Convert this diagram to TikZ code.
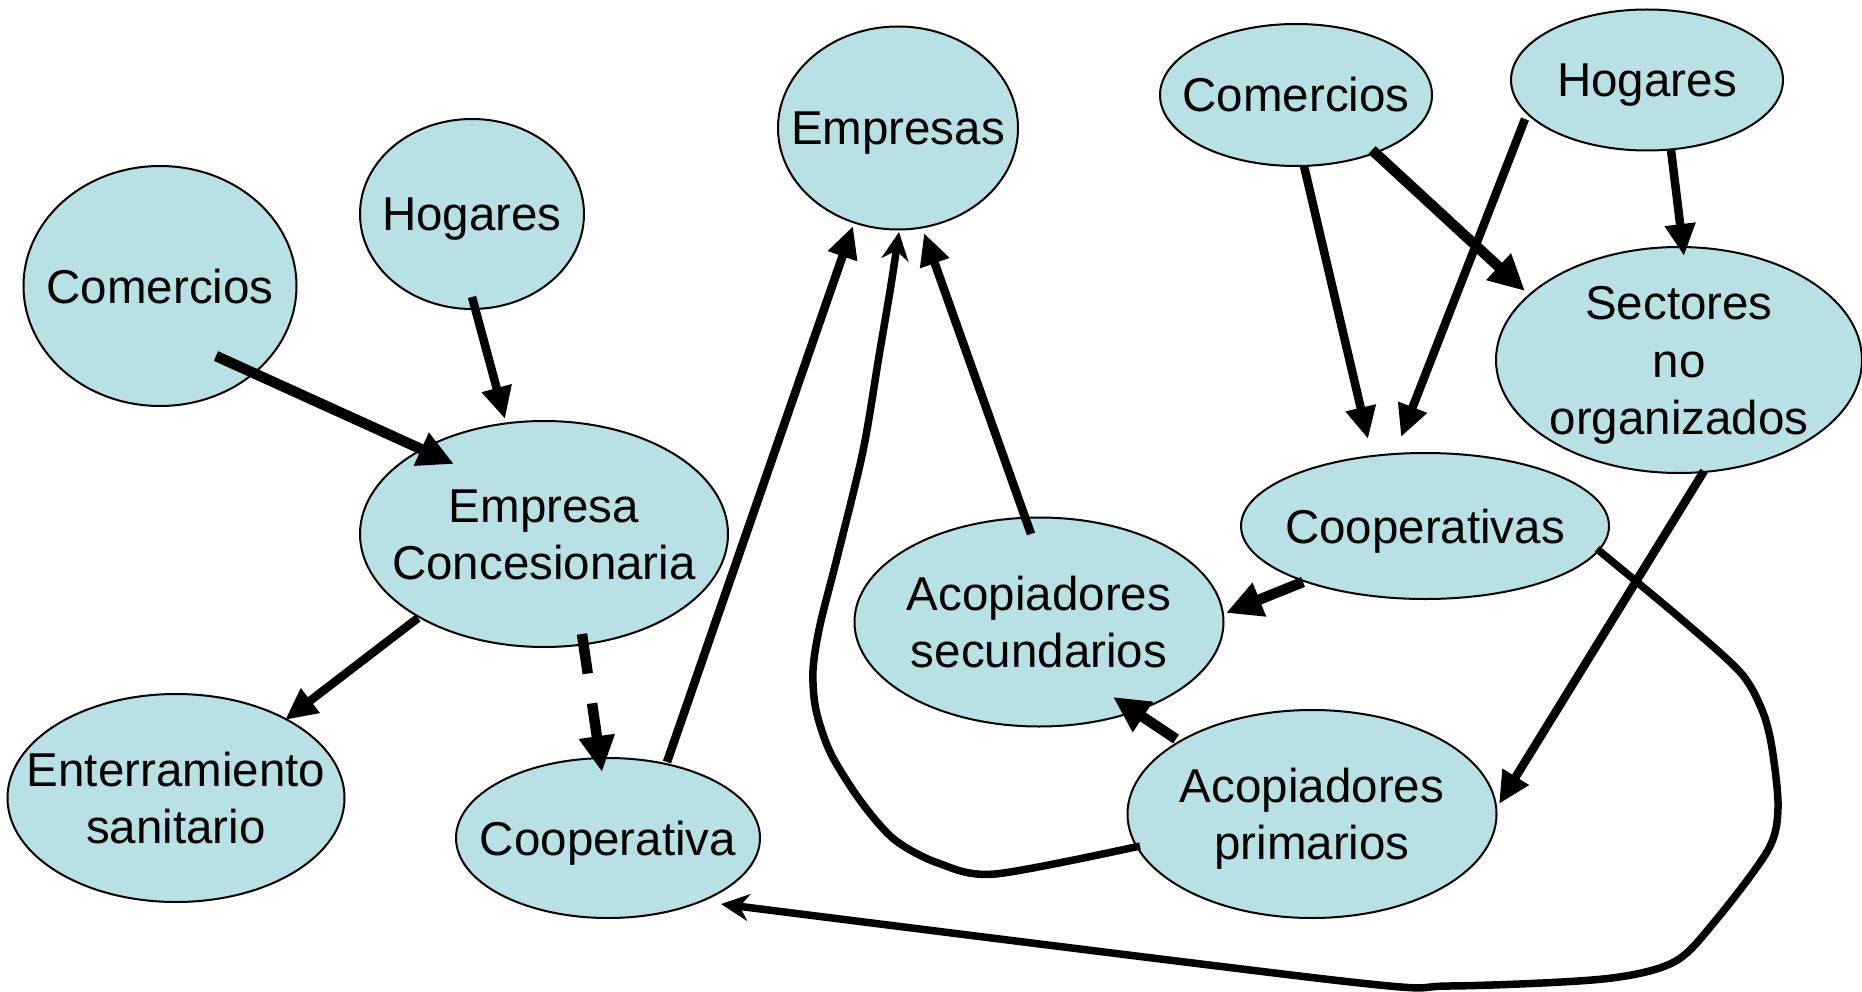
\documentclass[tikz,border=0pt]{standalone}
\usepackage{fontspec}
\setmainfont{Liberation Sans}
\usetikzlibrary{arrows.meta, calc, shapes.geometric}
\definecolor{bubble}{RGB}{185,224,228}
\newcommand\bubblestrut{\rule[-12pt]{0pt}{58pt}}

\begin{document}
\begin{tikzpicture}[x=1pt, y=-1pt,
  actor/.style={ellipse, draw=black, line width=2pt, fill=bubble,
    inner xsep=-200pt, inner ysep=-150pt, align=center,
    font=\fontsize{47.5}{57.5}\selectfont,
    execute at begin node=\bubblestrut, execute at end node=\bubblestrut},
  flow/.style={line width=8.5pt, -{Triangle[length=32pt, width=29pt]}},
  bigflow/.style={line width=10.5pt, -{Triangle[length=36pt, width=34pt]}},
  curveflow/.style={line width=7.5pt, line join=round, -{Stealth[length=28pt, width=27pt]}}]
  \useasboundingbox (0,0) rectangle (1862,992);
  % Draw the left group
  \node [actor, minimum width=273pt, minimum height=240pt] (comL) at (160,286) {Comercios};
  \node [actor, minimum width=224pt, minimum height=190pt] (hogL) at (472,214) {Hogares};
  \node [actor, minimum width=368pt, minimum height=226pt] (emcon) at (544,534) {\bubblestrut Empresa\\Concesionaria};
  \node [actor, minimum width=337pt, minimum height=208pt] (enter) at (176,798) {\bubblestrut Enterramiento\\sanitario};
  \node [actor, minimum width=304pt, minimum height=160pt] (coopL) at (608,838) {Cooperativa};
  % Draw the middle and right group
  \node [actor, minimum width=240pt, minimum height=203pt] (empr) at (898,128) {Empresas};
  \node [actor, minimum width=272pt, minimum height=142pt] (comR) at (1296,95) {Comercios};
  \node [actor, minimum width=272pt, minimum height=141pt] (hogR) at (1647,80) {Hogares};
  \node [actor, minimum width=366pt, minimum height=226pt] (sect) at (1679,360) {\bubblestrut Sectores\\no\\organizados};
  \node [actor, minimum width=368pt, minimum height=146pt] (coops) at (1425,526) {Cooperativas};
  \node [actor, minimum width=369pt, minimum height=209pt] (acsec) at (1039,622) {\bubblestrut Acopiadores\\secundarios};
  \node [actor, minimum width=369pt, minimum height=208pt] (acpri) at (1312,814) {\bubblestrut Acopiadores\\primarios};
  % Draw straight arrows
  \draw [bigflow] ($(comL)+(56,70)$) -- ($(emcon)+(-90,-70)$);
  \draw [flow] ($(hogL)+(0,83)$) -- ($(emcon)+(-39,-115)$);
  \draw [flow] ($(emcon)+(-126,84)$) -- ($(enter)+(109,-78)$);
  \draw [bigflow, dash pattern=on 40pt off 30pt] ($(emcon)+(38,100)$) -- ($(coopL)+(-6,-66)$);
  \draw [flow] ($(coopL)+(59,-76)$) -- ($(empr)+(-45,98)$);
  \draw [flow] ($(acsec)+(-8,-88)$) -- ($(empr)+(26,105)$);
  \draw [flow] ($(comR)+(8,71)$) -- ($(coops)+(-57,-87)$);
  \draw [bigflow] ($(comR)+(76,55)$) -- ($(sect)+(-154,-69)$);
  \draw [flow] ($(hogR)+(-122,39)$) -- ($(coops)+(-24,-89)$);
  \draw [flow] ($(hogR)+(24,70)$) -- ($(sect)+(5,-104)$);
  \draw [flow] ($(sect)+(25,111)$) -- ($(acpri)+(187,-10)$);
  \draw [bigflow] ($(coops)+(-122,56)$) -- ($(acsec)+(187,-9)$);
  \draw [bigflow] ($(acpri)+(-136,-75)$) -- ($(acsec)+(74,75)$);
  % Draw curved arrows
  \coordinate (f0) at ($(acpri)+(-172,32)$);
  \coordinate (f1) at ($(empr)+(1,104)$);
  \draw [curveflow] plot [smooth, tension=0.5] coordinates {(f0) (995,874) (938,863) (895,840)
    (862,803) (831,754) (816,710) (813,670) (820,625) (837,558) (863,451) (879,356) (891,285) (f1)};
  \coordinate (o0) at ($(coops)+(172,23)$);
  \coordinate (o1) at ($(coopL)+(113,66)$);
  \draw [curveflow] plot [smooth, tension=0.5] coordinates {(o0) (1680,618) (1740,672) (1762,710)
    (1772,748) (1778,808) (1768,850) (1716,920) (1674,962) (1603,979) (1449,986) (1342,981) (o1)};
\end{tikzpicture}
\end{document}
